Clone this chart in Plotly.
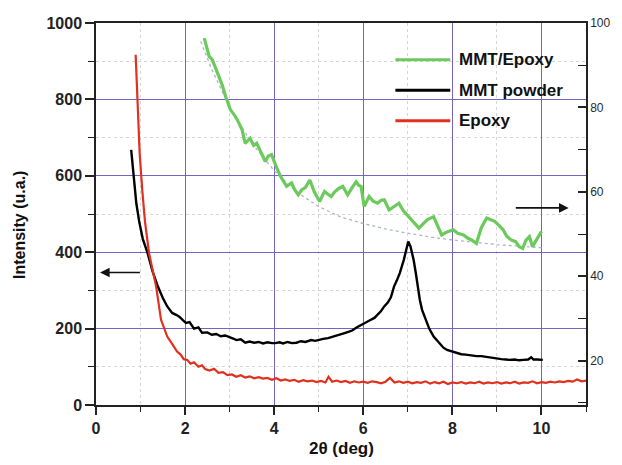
import plotly.graph_objects as go

# ---- data ----
epoxy_x = [0.89, 0.93, 0.98, 1.04, 1.10, 1.19, 1.27, 1.35, 1.46, 1.60, 1.72, 1.82, 1.90, 1.97, 2.05, 2.12, 2.20,
           2.30, 2.38, 2.45, 2.55, 2.65, 2.75, 2.85, 2.95, 3.05, 3.15, 3.25, 3.35, 3.45, 3.55, 3.65, 3.75, 3.85,
           3.95, 4.05, 4.15, 4.25, 4.35, 4.45, 4.55, 4.65, 4.75, 4.85, 4.95, 5.05, 5.15, 5.22, 5.30, 5.40, 5.50,
           5.60, 5.70, 5.80, 5.90, 6.00, 6.10, 6.20, 6.30, 6.40, 6.50, 6.60, 6.70, 6.80, 6.90, 7.00, 7.10, 7.20,
           7.30, 7.40, 7.50, 7.60, 7.70, 7.80, 7.90, 8.00, 8.10, 8.20, 8.30, 8.40, 8.50, 8.60, 8.70, 8.80, 8.90,
           9.00, 9.10, 9.20, 9.30, 9.40, 9.50, 9.60, 9.70, 9.80, 9.90, 10.00, 10.10, 10.20, 10.30, 10.40, 10.50,
           10.60, 10.70, 10.80, 10.90, 11.00]
epoxy_y = [917, 800, 659, 560, 480, 398, 350, 310, 223, 179, 158, 140, 132, 120, 118, 108, 112,
           100, 104, 94, 90, 95, 84, 86, 78, 80, 74, 78, 72, 75, 70, 73, 69, 71,
           66, 70, 64, 67, 63, 66, 61, 65, 62, 64, 60, 63, 59, 74, 61, 64, 60,
           63, 58, 62, 59, 61, 58, 62, 60, 57, 61, 71, 59, 62, 58, 61, 57, 60,
           58, 62, 56, 60, 57, 61, 55, 59, 57, 60, 56, 59, 57, 61, 56, 59, 57,
           60, 56, 59, 57, 61, 56, 59, 58, 62, 57, 60, 58, 61, 59, 62, 60,
           63, 61, 67, 62, 64]

mmt_x = [0.79, 0.85, 0.905, 0.97, 1.05, 1.16, 1.27, 1.39, 1.50, 1.60, 1.71, 1.80, 1.87, 1.95, 2.02, 2.10, 2.20,
         2.30, 2.38, 2.50, 2.60, 2.70, 2.80, 2.90, 2.98, 3.08, 3.15, 3.25, 3.35, 3.45, 3.55, 3.65, 3.75, 3.85,
         3.95, 4.02, 4.12, 4.20, 4.30, 4.40, 4.50, 4.60, 4.70, 4.83, 4.92, 5.00, 5.10, 5.21, 5.30, 5.40, 5.50,
         5.58, 5.68, 5.75, 5.85, 5.95, 6.05, 6.15, 6.25, 6.32, 6.40, 6.47, 6.55, 6.62, 6.69, 6.75, 6.82, 6.91,
         6.96, 7.01, 7.06, 7.13, 7.18, 7.22, 7.27, 7.32, 7.40, 7.48, 7.58, 7.70, 7.80, 7.88, 8.00, 8.10, 8.20,
         8.30, 8.40, 8.54, 8.65, 8.75, 8.90, 9.00, 9.10, 9.20, 9.28, 9.40, 9.50, 9.60, 9.70, 9.77, 9.82, 9.90,
         10.03]
mmt_y = [668, 600, 528, 480, 435, 397, 350, 310, 280, 258, 241, 236, 231, 222, 215, 217, 200,
         203, 189, 190, 184, 186, 180, 182, 179, 174, 170, 172, 163, 166, 163, 165, 161, 164,
         162, 162, 164, 161, 165, 162, 163, 167, 165, 170, 168, 171, 173, 175, 178, 180, 184,
         188, 192, 195, 203, 210, 216, 222, 228, 236, 246, 258, 268, 282, 310, 325, 345, 380,
         402, 428, 415, 380, 345, 312, 275, 249, 222, 200, 179, 163, 150, 144, 140, 136, 133,
         132, 130, 128, 128, 126, 123, 122, 120, 119, 118, 119, 117, 118, 119, 125, 119, 119,
         118]

comp_x = [2.43, 2.50, 2.54, 2.61, 2.68, 2.76, 2.83, 2.91, 3.02, 3.10, 3.17, 3.28, 3.35, 3.46, 3.54, 3.61,
          3.70, 3.80, 3.87, 3.94, 4.06, 4.15, 4.28, 4.39, 4.46, 4.54, 4.62, 4.70, 4.80, 4.90, 5.02, 5.13,
          5.20, 5.28, 5.36, 5.45, 5.54, 5.65, 5.75, 5.84, 5.90, 5.95, 6.02, 6.13, 6.22, 6.32, 6.40, 6.47,
          6.58, 6.68, 6.80, 6.90, 6.99, 7.10, 7.25, 7.36, 7.45, 7.58, 7.66, 7.76, 7.88, 8.02, 8.12, 8.25,
          8.35, 8.43, 8.54, 8.65, 8.77, 8.88, 8.95, 9.05, 9.14, 9.22, 9.32, 9.42, 9.50, 9.58, 9.65, 9.73,
          9.80, 9.88, 10.00]
comp_y = [96.4, 93.5, 92.1, 91.3, 89.5, 87.0, 85.4, 82.6, 79.4, 78.3, 77.1, 74.7, 71.5, 72.7, 71.0, 71.5,
          69.5, 67.2, 68.5, 68.8, 65.6, 63.5, 61.3, 62.1, 60.5, 59.3, 60.5, 61.0, 62.8, 60.0, 57.7, 60.1,
          59.5, 58.9, 60.0, 60.8, 61.3, 59.3, 61.0, 62.4, 61.5, 61.3, 56.5, 58.9, 57.8, 57.3, 58.0, 58.1,
          55.7, 56.5, 57.3, 55.5, 54.5, 53.0, 51.4, 52.6, 53.5, 54.1, 52.0, 49.8, 50.5, 51.0, 50.2, 49.8,
          49.0, 48.6, 47.8, 51.5, 53.8, 53.4, 53.0, 52.0, 51.0, 49.5, 48.6, 48.2, 47.0, 46.6, 48.5, 49.4,
          47.0, 48.5, 50.6]

fit_x = [2.35, 2.6, 3.0, 3.5, 4.0, 4.5, 5.0, 5.5, 6.0, 6.5, 7.0, 7.5, 8.0, 8.5, 9.0, 9.5, 10.0]
fit_y = [95.6, 89.0, 80.0, 71.5, 65.0, 60.0, 56.5, 54.0, 52.5, 51.2, 50.2, 49.3, 48.6, 48.0, 47.5, 47.1, 46.8]

legend_names = ["MMT/Epoxy", "MMT powder", "Epoxy"]
legend_colors = ["#6cc95c", "#000000", "#e0301e"]

FONT = "Arial, Liberation Sans, sans-serif"

fig = go.Figure()
fig.add_trace(go.Scatter(x=fit_x, y=fit_y, yaxis="y2", mode="lines",
                         line=dict(color="#aeb5c4", width=1.3, dash="dot"), showlegend=False))
fig.add_trace(go.Scatter(x=comp_x, y=comp_y, yaxis="y2", mode="lines", name=legend_names[0],
                         line=dict(color=legend_colors[0], width=3.2), showlegend=False))
fig.add_trace(go.Scatter(x=mmt_x, y=mmt_y, mode="lines", name=legend_names[1],
                         line=dict(color=legend_colors[1], width=2.4), showlegend=False))
fig.add_trace(go.Scatter(x=epoxy_x, y=epoxy_y, mode="lines", name=legend_names[2],
                         line=dict(color=legend_colors[2], width=2.2), showlegend=False))

# custom legend (inside plot, top right)
for i, (nm, col) in enumerate(zip(legend_names, legend_colors)):
    yp = 0.904 - i * 0.080
    fig.add_shape(type="line", xref="paper", yref="paper", x0=0.611, x1=0.723, y0=yp, y1=yp,
                  line=dict(color=col, width=3))
    fig.add_annotation(xref="paper", yref="paper", x=0.737, y=yp, xanchor="left", yanchor="middle",
                       text=nm, showarrow=False,
                       font=dict(family=FONT, size=17, color="#111111", weight="bold"))

# arrows
fig.add_annotation(x=0.09, y=347, ax=1.02, ay=347, xref="x", yref="y", axref="x", ayref="y",
                   text="", showarrow=True, arrowhead=2, arrowsize=1.2, arrowwidth=1.6, arrowcolor="#111111")
fig.add_annotation(x=10.61, y=516, ax=9.39, ay=516, xref="x", yref="y", axref="x", ayref="y",
                   text="", showarrow=True, arrowhead=2, arrowsize=1.2, arrowwidth=1.6, arrowcolor="#111111")

# axis titles
fig.add_annotation(xref="paper", yref="paper", x=-0.156, y=0.47, text="Intensity (u.a.)", textangle=-90,
                   showarrow=False, xanchor="center", yanchor="middle",
                   font=dict(family=FONT, size=16, color="#111111", weight="bold"))
fig.add_annotation(xref="paper", yref="paper", x=0.5, y=-0.113, text="2θ (deg)",
                   showarrow=False, xanchor="center", yanchor="middle",
                   font=dict(family=FONT, size=17, color="#111111", weight="bold"))

grid_major = "#7563c4"
grid_minor = "#d6d6d6"

fig.update_layout(
    width=622, height=465,
    margin=dict(l=96, r=32, t=23, b=60),
    paper_bgcolor="white", plot_bgcolor="white",
    xaxis=dict(range=[0, 11], tick0=0, dtick=2, showgrid=True, gridcolor=grid_major, gridwidth=1.3,
               zeroline=False, showline=True, linecolor="#222222", linewidth=1.5, mirror=True,
               ticks="outside", ticklen=8, tickwidth=1.5, tickcolor="#222222",
               tickfont=dict(family=FONT, size=16, color="#222222", weight="bold"),
               minor=dict(dtick=1, tick0=1, showgrid=True, gridcolor=grid_minor, griddash="dot", gridwidth=1,
                          ticks="outside", ticklen=5, tickwidth=1.3, tickcolor="#222222")),
    yaxis=dict(range=[0, 1000], tick0=0, dtick=200, showgrid=True, gridcolor=grid_major, gridwidth=1.3,
               zeroline=False, showline=True, linecolor="#222222", linewidth=1.5,
               ticks="outside", ticklen=9, tickwidth=1.5, tickcolor="#222222",
               tickfont=dict(family=FONT, size=16, color="#222222", weight="bold"),
               minor=dict(dtick=100, tick0=100, showgrid=True, gridcolor=grid_minor, griddash="dot", gridwidth=1,
                          ticks="outside", ticklen=6, tickwidth=1.3, tickcolor="#222222")),
    yaxis2=dict(range=[9.5, 100], overlaying="y", side="right", tick0=0, dtick=20, showgrid=False,
                zeroline=False, showline=True, linecolor="#222222", linewidth=1.5,
                ticks="inside", ticklen=8, tickwidth=1.5, tickcolor="#222222",
                tickfont=dict(family=FONT, size=12, color="#2a2a2a"),
                minor=dict(dtick=10, tick0=10, ticks="inside", ticklen=8, tickwidth=1.3, tickcolor="#222222")),
    showlegend=False,
)

# remove the default 8px page margin so the figure sits at the window's top-left corner
fig.write_html("out.html", config={"displayModeBar": False},
               post_script="document.body.style.margin='0';")
